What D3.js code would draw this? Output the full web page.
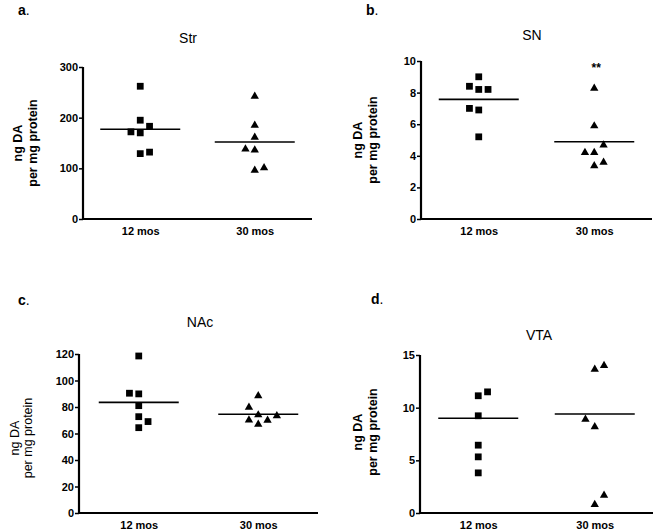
<!DOCTYPE html>
<html>
<head>
<meta charset="utf-8">
<script src="https://cdn.jsdelivr.net/npm/d3@7"></script>
<style>
  html, body { margin: 0; padding: 0; background: #fff; }
  svg { display: block; font-family: "Liberation Sans", Arial, sans-serif; }
</style>
</head>
<body>
<svg id="chart" width="662" height="532"></svg>
<script>
// ---------- DATA ----------
const categories = ["12 mos", "30 mos"];
const yLabelLines = ["ng DA", "per mg protein"];

// Panel a: Str
const strTicks = [0, 100, 200, 300];
const str12 = [262, 195, 183, 172, 170, 129, 132];
const str30 = [242, 185, 161, 138, 136, 96, 101];
const strMeans = [177, 152];
const str12Col = [0, 0, 1, -1, 0, 0, 1];
const str30Col = [0, 0, 0, -1, 0, 0, 1];

// Panel b: SN
const snTicks = [0, 2, 4, 6, 8, 10];
const sn12 = [9.0, 8.4, 8.2, 8.2, 7.0, 6.9, 5.2];
const sn30 = [8.27, 5.89, 4.68, 4.2, 4.2, 3.37, 3.59];
const snMeans = [7.57, 4.89];
const sn12Col = [0, -1, 0, 1, -1, 0, 0];
const sn30Col = [0, 0, 1, -1, 0, 0, 1];
const snSignif = "**";

// Panel c: NAc
const nacTicks = [0, 20, 40, 60, 80, 100, 120];
const nac12 = [118.5, 90.4, 89.9, 81, 72.7, 69, 64.4];
const nac30 = [88.4, 79.8, 74, 73.3, 70.2, 70, 67];
const nacMeans = [83.5, 74.5];
const nac12Col = [0, -1, 0, 0, 0, 1, 0];
const nac30Col = [0, -1, 0, 2, -1, 1, 0];

// Panel d: VTA
const vtaTicks = [0, 5, 10, 15];
const vta12 = [11.5, 11.13, 9.23, 6.44, 5.33, 3.81];
const vta30 = [13.99, 13.64, 8.89, 8.19, 1.68, 0.8];
const vtaMeans = [9.0, 9.4];
const vta12Col = [1, 0, 0, 0, 0, 0];
const vta30Col = [1, 0, -1, 0, 1, 0];

// ---------- LAYOUT ----------
const panels = [
  { letter: "a", title: "Str", ticks: strTicks, g1: str12, g2: str30, c1: str12Col, c2: str30Col, means: strMeans,
    x0: 83, x1: 312, yZero: 219, yTop: 67, titleX: 188, titleY: 43, letterX: 18, letterY: 15,
    labX: [18, 33], labY: 143, labBold: true, catY: 235 },
  { letter: "b", title: "SN", ticks: snTicks, g1: sn12, g2: sn30, c1: sn12Col, c2: sn30Col, means: snMeans,
    x0: 421, x1: 652, yZero: 219, yTop: 61, titleX: 532, titleY: 40, letterX: 366, letterY: 15,
    labX: [358, 373], labY: 140, labBold: true, catY: 235, signif: snSignif },
  { letter: "c", title: "NAc", ticks: nacTicks, g1: nac12, g2: nac30, c1: nac12Col, c2: nac30Col, means: nacMeans,
    x0: 79, x1: 318, yZero: 513, yTop: 354, titleX: 200, titleY: 327, letterX: 18, letterY: 305,
    labX: [15, 28], labY: 438, labBold: false, catY: 529 },
  { letter: "d", title: "VTA", ticks: vtaTicks, g1: vta12, g2: vta30, c1: vta12Col, c2: vta30Col, means: vtaMeans,
    x0: 420, x1: 653, yZero: 513, yTop: 355, titleX: 539, titleY: 340, letterX: 371, letterY: 304,
    labX: [358, 373], labY: 432, labBold: true, catY: 529 }
];

const svg = d3.select("#chart");
const jitterStep = 9.3;
const squarePath = d3.symbol(d3.symbolSquare).size(46)();
const trianglePath = d3.symbol(d3.symbolTriangle).size(30)();

panels.forEach(p => {
  const g = svg.append("g");
  const yMax = p.ticks[p.ticks.length - 1];
  const y = d3.scaleLinear().domain([0, yMax]).range([p.yZero, p.yTop]);
  const x = d3.scalePoint().domain(categories).range([p.x0, p.x1]).padding(0.5);

  // panel letter
  const lt = g.append("text").attr("x", p.letterX).attr("y", p.letterY)
    .attr("font-size", 14).attr("fill", "#000");
  lt.append("tspan").attr("font-weight", "bold").text(p.letter);
  lt.append("tspan").text(".");

  // title
  g.append("text").attr("x", p.titleX).attr("y", p.titleY).attr("text-anchor", "middle")
    .attr("font-size", 14).text(p.title);

  // y axis
  const yAxis = d3.axisLeft(y).tickValues(p.ticks).tickSize(4).tickPadding(1).tickFormat(d3.format("d"));
  const ya = g.append("g").attr("transform", `translate(${p.x0},0)`).call(yAxis);
  ya.select(".domain").attr("stroke-width", 2.2).attr("d", `M0,${p.yTop}V${p.yZero + 1}`);
  ya.selectAll(".tick line").attr("stroke-width", 1.5);
  ya.selectAll(".tick text").attr("font-size", 11).attr("font-weight", "bold")
    .attr("font-family", "Liberation Sans, Arial, sans-serif").attr("fill", "#000");

  // x axis
  const xAxis = d3.axisBottom(x).tickSize(0).tickPadding(0);
  const xa = g.append("g").attr("transform", `translate(0,${p.yZero})`).call(xAxis);
  xa.select(".domain").attr("stroke-width", 2.2).attr("d", `M${p.x0 - 1},0H${p.x1}`);
  xa.selectAll(".tick text").attr("font-size", 11).attr("font-weight", "bold")
    .attr("font-family", "Liberation Sans, Arial, sans-serif").attr("fill", "#000")
    .attr("dy", null).attr("y", p.catY - p.yZero);

  // y label
  yLabelLines.forEach((t, i) => {
    g.append("text")
      .attr("transform", `translate(${p.labX[i]},${p.labY}) rotate(-90)`)
      .attr("text-anchor", "middle").attr("dominant-baseline", "central")
      .attr("font-size", 12.5).attr("font-weight", p.labBold ? "bold" : "normal")
      .text(t);
  });

  // points
  const groups = [
    { vals: p.g1, cols: p.c1, path: squarePath, cat: categories[0] },
    { vals: p.g2, cols: p.c2, path: trianglePath, cat: categories[1] }
  ];
  groups.forEach(gr => {
    g.selectAll(null).data(gr.vals).enter().append("path")
      .attr("d", gr.path)
      .attr("fill", "#000")
      .attr("transform", (d, i) => `translate(${x(gr.cat) + gr.cols[i] * jitterStep},${y(d)})`);
  });

  // mean lines
  g.selectAll(null).data(p.means).enter().append("line")
    .attr("x1", (d, i) => x(categories[i]) - 40)
    .attr("x2", (d, i) => x(categories[i]) + 40)
    .attr("y1", d => y(d)).attr("y2", d => y(d))
    .attr("stroke", "#000").attr("stroke-width", 1.6);

  if (p.signif) {
    g.append("text").attr("x", x(categories[1]) + 2).attr("y", p.yTop + 11)
      .attr("text-anchor", "middle").attr("font-size", 12).attr("font-weight", "bold")
      .text(p.signif);
  }
});
</script>
</body>
</html>
